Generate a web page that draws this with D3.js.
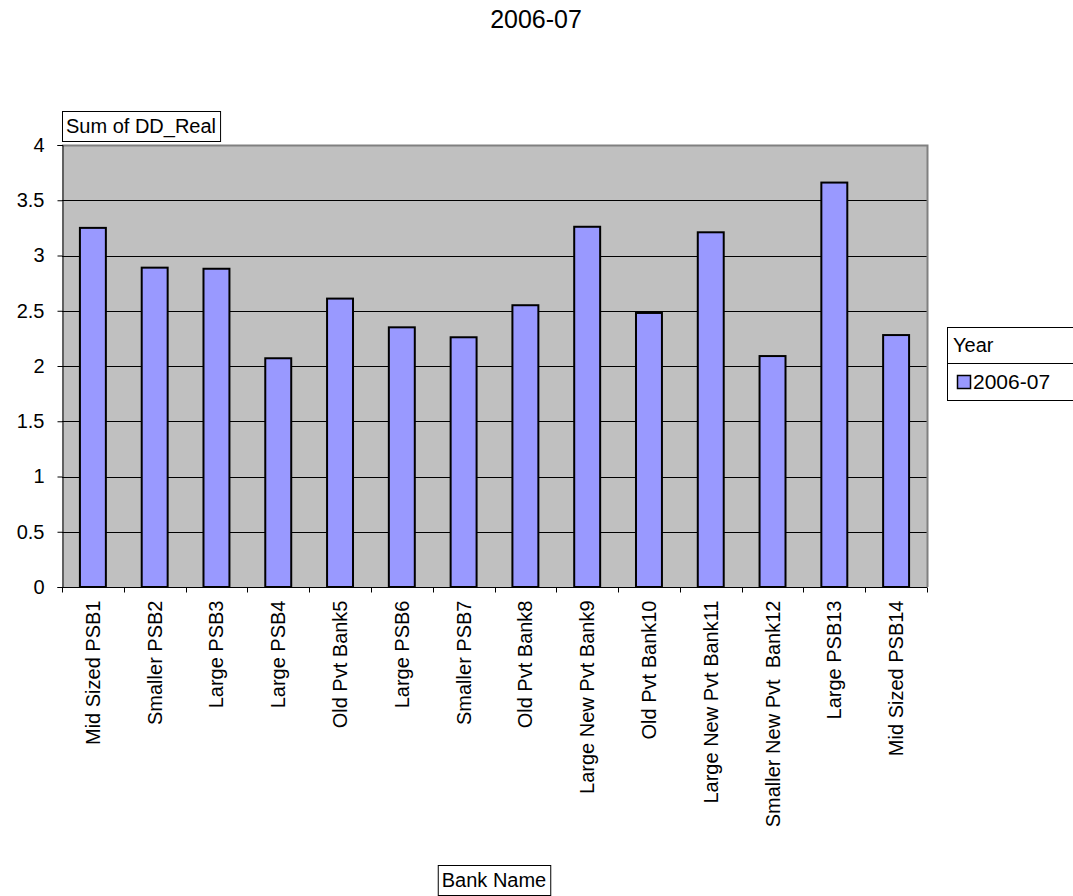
<!DOCTYPE html>
<html>
<head>
<meta charset="utf-8">
<script src="https://cdn.jsdelivr.net/npm/d3@7"></script>
<style>
  body { margin: 0; background: #fff; }
  svg text { font-family: Arial, "Liberation Sans", sans-serif; fill: #000; }
</style>
</head>
<body>
<svg id="chart" width="1073" height="896"></svg>
<script>
// Chart data ============================================================
var banks = ["Mid Sized PSB1", "Smaller PSB2", "Large PSB3", "Large PSB4", "Old Pvt Bank5",
  "Large PSB6", "Smaller PSB7", "Old Pvt Bank8", "Large New Pvt Bank9", "Old Pvt Bank10",
  "Large New Pvt Bank11", "Smaller New Pvt  Bank12", "Large PSB13", "Mid Sized PSB14"];
var ddReal = [3.25, 2.89, 2.88, 2.07, 2.61, 2.35, 2.26, 2.55, 3.26, 2.48, 3.21, 2.09, 3.66, 2.28];
var yTicks = [0, 0.5, 1, 1.5, 2, 2.5, 3, 3.5, 4];
var seriesName = "2006-07";

// Layout ================================================================
var plotLeft = 62, plotRight = 927, plotTop = 145, plotBottom = 587;
var svg = d3.select("#chart");

var x = d3.scaleBand()
  .domain(banks)
  .range([plotLeft, plotRight])
  .paddingInner(0.58)
  .paddingOuter(0.29);

var y = d3.scaleLinear()
  .domain([0, 4])
  .range([plotBottom, plotTop]);

// plot background
svg.append("rect")
  .attr("x", plotLeft).attr("y", plotTop)
  .attr("width", plotRight - plotLeft).attr("height", plotBottom - plotTop)
  .style("fill", "#c0c0c0");

// gridlines
svg.append("g").selectAll("line")
  .data(yTicks.filter(function(d) { return d > 0 && d < 4; }))
  .enter().append("line")
  .attr("x1", plotLeft).attr("x2", plotRight)
  .attr("y1", function(d) { return Math.round(y(d)) + 0.5; })
  .attr("y2", function(d) { return Math.round(y(d)) + 0.5; })
  .style("stroke", "#000").style("stroke-width", 1);

// gray frame top / right
svg.append("path")
  .attr("d", "M" + plotLeft + "," + (plotTop + 0.5) + "H" + (plotRight + 0.5) + "V" + plotBottom)
  .style("fill", "none").style("stroke", "#808080").style("stroke-width", 2);

// bars
svg.append("g").selectAll("rect")
  .data(ddReal)
  .enter().append("rect")
  .attr("x", function(d, i) { return x(banks[i]); })
  .attr("y", function(d) { return y(d); })
  .attr("width", x.bandwidth())
  .attr("height", function(d) { return y(0) - y(d); })
  .style("fill", "#9999ff")
  .style("stroke", "#000")
  .style("stroke-width", 2);

// y axis
var yAxis = d3.axisLeft(y)
  .tickValues(yTicks)
  .tickSize(5)
  .tickPadding(13)
  .tickFormat(function(d) { return String(d); });
var gy = svg.append("g")
  .attr("transform", "translate(" + (plotLeft + 0.5) + ",0)")
  .call(yAxis);
gy.select(".domain").style("stroke", "#000").style("stroke-width", 1);
gy.selectAll("text").style("font-size", "20px").style("font-family", "Arial, 'Liberation Sans', sans-serif");

// x axis (labels only, boundary ticks drawn below)
var xAxis = d3.axisBottom(x).tickSize(0).tickPadding(0);
var gx = svg.append("g")
  .attr("transform", "translate(0," + (plotBottom + 0.5) + ")")
  .call(xAxis);
gx.select(".domain").style("stroke", "#000").style("stroke-width", 1)
  .attr("d", "M" + plotLeft + ",0H" + plotRight);
gx.selectAll("text")
  .style("font-size", "20px")
  .style("font-family", "Arial, 'Liberation Sans', sans-serif")
  .style("white-space", "pre")
  .attr("text-anchor", "end")
  .attr("dy", "0.35em")
  .attr("transform", "translate(0,13) rotate(-90)")
  .attr("x", 0).attr("y", 0);

var bounds = banks.map(function(b) { return x(b) - x.step() * x.paddingInner() / 2; });
bounds.push(plotRight);
gx.append("g").selectAll("line")
  .data(bounds)
  .enter().append("line")
  .attr("x1", function(d) { return Math.round(d) + 0.5; })
  .attr("x2", function(d) { return Math.round(d) + 0.5; })
  .attr("y1", 0).attr("y2", 5)
  .style("stroke", "#000");

// title
svg.append("text")
  .attr("x", 536).attr("y", 28)
  .attr("text-anchor", "middle")
  .style("font-size", "25px")
  .text(seriesName);

// boxed labels
function boxLabel(txt, cx, cy, anchorLeft) {
  var g = svg.append("g");
  var t = g.append("text")
    .attr("y", cy)
    .attr("dy", "0.35em")
    .style("font-size", "20px")
    .text(txt);
  var w = t.node().getComputedTextLength();
  var bx = anchorLeft ? cx : cx - w / 2 - 4;
  t.attr("x", bx + 4);
  g.insert("rect", "text")
    .attr("x", bx + 0.5).attr("y", cy - 15 + 0.5)
    .attr("width", w + 8).attr("height", 30)
    .style("fill", "#fff").style("stroke", "#000").style("stroke-width", 1);
}
boxLabel("Sum of DD_Real", 62, 126, true);
boxLabel("Bank Name", 494, 880, false);

// legend
var lg = svg.append("g").attr("transform", "translate(947,327)");
lg.append("rect")
  .attr("x", 0.5).attr("y", 0.5).attr("width", 140).attr("height", 73)
  .style("fill", "#fff").style("stroke", "#000");
lg.append("line")
  .attr("x1", 0).attr("x2", 140).attr("y1", 36.5).attr("y2", 36.5)
  .style("stroke", "#000");
lg.append("text").attr("x", 6).attr("y", 18).attr("dy", "0.35em")
  .style("font-size", "20px").text("Year");
lg.append("rect")
  .attr("x", 10.5).attr("y", 48.5).attr("width", 13).attr("height", 13)
  .style("fill", "#9999ff").style("stroke", "#000").style("stroke-width", 1.5);
lg.append("text").attr("x", 26).attr("y", 55).attr("dy", "0.35em")
  .style("font-size", "21px").text(seriesName);
</script>
</body>
</html>
